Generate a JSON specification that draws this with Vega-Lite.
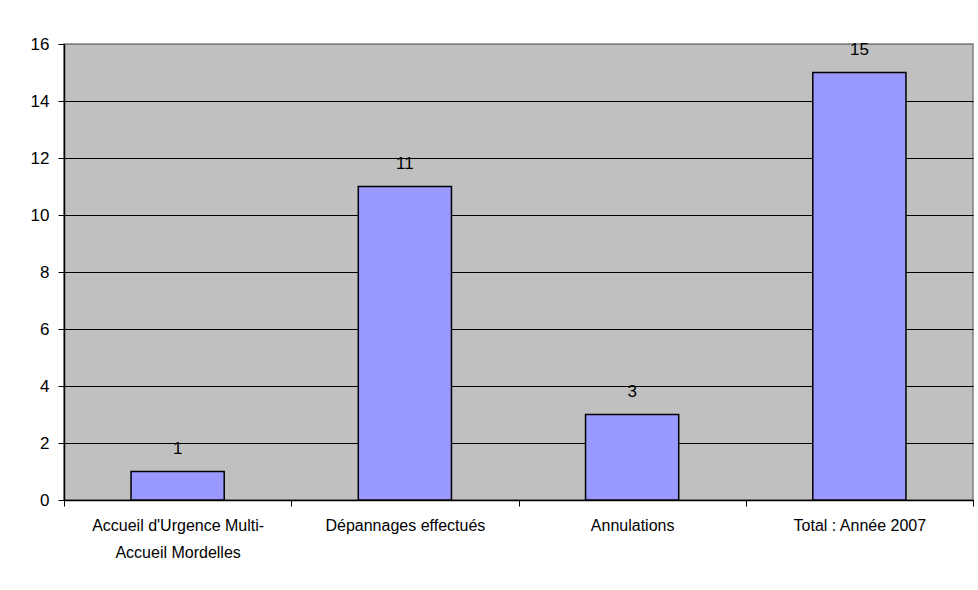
{
  "$schema": "https://vega.github.io/schema/vega-lite/v6.json",
  "autosize": {"type": "none"},
  "width": 909,
  "height": 456,
  "padding": {"left": 64, "top": 44, "right": 5, "bottom": 90},
  "background": "white",
  "config": {
    "view": {"fill": "#C0C0C0", "stroke": "#808080", "strokeWidth": 1.5},
    "font": "Liberation Sans"
  },
  "data": {
    "values": [
      {"categorie": "Accueil d'Urgence Multi-Accueil Mordelles", "valeur": 1},
      {"categorie": "Dépannages effectués", "valeur": 11},
      {"categorie": "Annulations", "valeur": 3},
      {"categorie": "Total : Année 2007", "valeur": 15}
    ]
  },
  "encoding": {
    "x": {
      "field": "categorie",
      "type": "nominal",
      "sort": null,
      "scale": {"paddingInner": 0, "paddingOuter": 0},
      "axis": {
        "title": null,
        "labelAngle": 0,
        "labelFont": "Liberation Sans",
        "labelFontSize": 16,
        "labelColor": "#000000",
        "labelPadding": 11,
        "labelLineHeight": 27,
        "labelLimit": 300,
        "labelExpr": "indexof(datum.label, 'Multi-') > 0 ? [substring(datum.label, 0, indexof(datum.label, 'Multi-') + 6), substring(datum.label, indexof(datum.label, 'Multi-') + 6)] : datum.label",
        "tickBand": "extent",
        "tickSize": 6,
        "tickColor": "#000000",
        "domainColor": "#000000",
        "domainWidth": 1.5,
        "grid": false
      }
    },
    "y": {
      "field": "valeur",
      "type": "quantitative",
      "scale": {"domain": [0, 16], "nice": false},
      "axis": {
        "title": null,
        "values": [0, 2, 4, 6, 8, 10, 12, 14, 16],
        "labelFont": "Liberation Sans",
        "labelFontSize": 17,
        "labelColor": "#000000",
        "labelPadding": 9,
        "tickSize": 6,
        "tickColor": "#000000",
        "domainColor": "#000000",
        "domainWidth": 1.5,
        "grid": true,
        "gridColor": {"condition": {"test": "datum.value == 16", "value": "#808080"}, "value": "#000000"},
        "gridWidth": 1,
        "gridOpacity": 1
      }
    }
  },
  "layer": [
    {
      "mark": {"type": "bar", "width": {"band": 0.41}, "fill": "#9999FF", "stroke": "#000000", "strokeWidth": 1.5}
    },
    {
      "mark": {"type": "text", "baseline": "alphabetic", "dy": -18, "fontSize": 17, "font": "Liberation Sans", "color": "#000000"},
      "encoding": {"text": {"field": "valeur", "type": "quantitative"}}
    }
  ]
}
